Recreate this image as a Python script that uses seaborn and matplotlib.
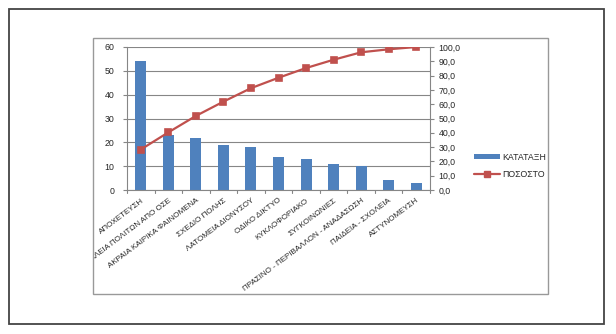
import matplotlib
matplotlib.use("Agg")
import matplotlib.pyplot as plt
import seaborn as sns
import numpy as np
from matplotlib.patches import Rectangle
from matplotlib.lines import Line2D
from matplotlib.patches import Patch
from matplotlib.ticker import FuncFormatter, MultipleLocator

categories = ["ΑΠΟΧΕΤΕΥΣΗ", "ΑΣΦΑΛΕΙΑ ΠΟΛΙΤΩΝ ΑΠΟ ΟΣΕ", "ΑΚΡΑΙΑ ΚΑΙΡΙΚΑ ΦΑΙΝΟΜΕΝΑ",
              "ΣΧΕΔΙΟ ΠΟΛΗΣ", "ΛΑΤΟΜΕΙΑ ΔΙΟΝΥΣΟΥ", "ΟΔΙΚΟ ΔΙΚΤΥΟ", "ΚΥΚΛΟΦΟΡΙΑΚΟ",
              "ΣΥΓΚΟΙΝΩΝΙΕΣ", "ΠΡΑΣΙΝΟ - ΠΕΡΙΒΑΛΛΟΝ - ΑΝΑΔΑΣΩΣΗ", "ΠΑΙΔΕΙΑ - ΣΧΟΛΕΙΑ",
              "ΑΣΤΥΝΟΜΕΥΣΗ"]
katataxi = [54, 23, 22, 19, 18, 14, 13, 11, 10, 4, 3]
pososto = [28.3, 40.3, 51.8, 61.8, 71.2, 78.5, 85.3, 91.1, 96.3, 98.4, 100.0]

sns.set_style("white")
plt.rcParams['font.family'] = ['Liberation Sans', 'DejaVu Sans']

BLUE = "#4F81BD"
RED = "#C0504D"
GRID = "#868686"
FS = 6.3
XFS = 5.8

fig = plt.figure(figsize=(6.16, 3.34), dpi=100)
ax = fig.add_axes([127/616, 1-190/334, (430-127)/616, (190-47)/334])

sns.barplot(x=categories, y=katataxi, ax=ax, color=BLUE, width=0.4,
            saturation=1, edgecolor="none")
ax.set_ylim(0, 60)
ax.yaxis.set_major_locator(MultipleLocator(10))
ax.grid(axis='y', color=GRID, linewidth=0.8)
ax.set_axisbelow(True)
ax.set_xlim(-0.5, len(categories) - 0.5)

ax2 = ax.twinx()
sns.pointplot(x=categories, y=pososto, ax=ax2, color=RED, markers='s',
              markersize=4.5, linewidth=1.6)
ax2.set_ylim(0, 100)
ax2.yaxis.set_major_locator(MultipleLocator(10))
ax2.yaxis.set_major_formatter(FuncFormatter(lambda v, p: f"{v:.1f}".replace('.', ',')))
ax2.set_xlim(-0.5, len(categories) - 0.5)

for a in (ax, ax2):
    a.spines['top'].set_visible(False)
    for s in ('left', 'right', 'bottom'):
        a.spines[s].set_color(GRID)
        a.spines[s].set_linewidth(0.8)
ax.spines['right'].set_visible(False)
ax2.spines['left'].set_visible(False)
ax2.spines['bottom'].set_visible(False)

ax.tick_params(axis='y', left=True, length=3, color=GRID, labelsize=FS, pad=6)
ax2.tick_params(axis='y', right=True, length=3, color=GRID, labelsize=FS, pad=3)
ax2.set_ylabel("")
ax.set_ylabel("")

ax.set_xticks(np.arange(len(categories)))
ax.set_xticklabels(categories, rotation=37, ha='right', rotation_mode='anchor', fontsize=XFS)
ax.tick_params(axis='x', bottom=True, length=0, pad=5)
for b in np.arange(-0.5, len(categories), 1.0):
    ax.plot([b, b], [0, -1.4], color=GRID, lw=0.8, clip_on=False)
ax.set_ylim(0, 60)

outer = Rectangle((9/616, 1-324/334), 595/616, 315/334, transform=fig.transFigure,
                  fill=False, edgecolor="#444444", lw=1.3)
inner = Rectangle((93/616, 1-294/334), 455/616, 256/334, transform=fig.transFigure,
                  fill=False, edgecolor="#999999", lw=1.0)
fig.patches.extend([outer, inner])

clip = Rectangle((93/616, 1-294/334), 455/616, 256/334, transform=fig.transFigure,
                 fill=False, visible=False)
fig.patches.append(clip)
for lab in ax.get_xticklabels():
    lab.set_clip_path(clip)
    lab.set_clip_on(True)

handles = [Patch(facecolor=BLUE, edgecolor='none', label="ΚΑΤΑΤΑΞΗ"),
           Line2D([], [], color=RED, marker='s', markersize=4.5, lw=1.6, label="ΠΟΣΟΣΤΟ")]
fig.legend(handles=handles, loc='center left', bbox_to_anchor=(466/616, 1-166/334),
           frameon=False, fontsize=FS, handlelength=3.0, handleheight=0.5,
           handletextpad=0.3, labelspacing=0.9)

fig.savefig("out.png", dpi=100)
